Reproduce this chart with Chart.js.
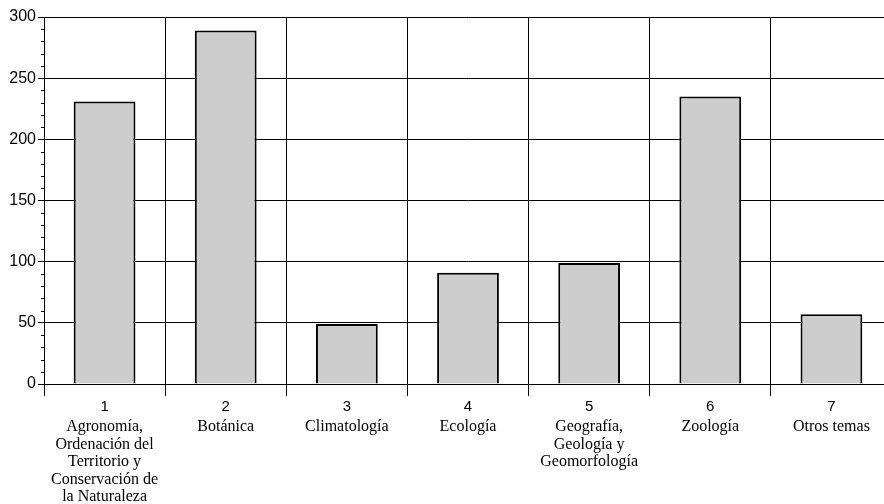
<!DOCTYPE html>
<html>
<head>
<meta charset="utf-8">
<script src="https://cdn.jsdelivr.net/npm/chart.js@4"></script>
<style>
  html, body { margin: 0; padding: 0; background: #fff; overflow: hidden; }
  #wrap { width: 884px; height: 504px; overflow: hidden; }
</style>
</head>
<body>
<div id="wrap"><canvas id="grafico" width="892" height="504"></canvas></div>
<script>
// Datos
const numeros = ['1', '2', '3', '4', '5', '6', '7'];
const temas = [
  ['Agronomía,', 'Ordenación del', 'Territorio y', 'Conservación de', 'la Naturaleza'],
  'Botánica',
  'Climatología',
  'Ecología',
  ['Geografía,', 'Geología y', 'Geomorfología'],
  'Zoología',
  'Otros temas'
];
const valores = [231, 289, 49, 91, 99, 235, 57];

// Marcas menores del eje Y (cada 10)
const marcasMenores = {
  id: 'marcasMenores',
  afterDraw(chart) {
    const y = chart.scales.y;
    const ctx = chart.ctx;
    ctx.save();
    ctx.strokeStyle = '#000';
    ctx.lineWidth = 1;
    for (let v = 0; v <= 300; v += 10) {
      if (v % 50 === 0) continue;
      const py = Math.round(y.getPixelForValue(v)) + 0.5;
      ctx.beginPath();
      ctx.moveTo(y.right - 3, py);
      ctx.lineTo(y.right, py);
      ctx.stroke();
    }
    ctx.restore();
  }
};

new Chart(document.getElementById('grafico'), {
  type: 'bar',
  data: {
    labels: numeros,
    datasets: [{
      data: valores,
      backgroundColor: '#cdcdcd',
      borderColor: '#000',
      borderWidth: 2,
      categoryPercentage: 1,
      barPercentage: 0.51
    }]
  },
  options: {
    responsive: false,
    animation: false,
    layout: { padding: { top: 17, right: 0, bottom: 0, left: 0 } },
    plugins: {
      legend: { display: false },
      tooltip: { enabled: false }
    },
    scales: {
      x: {
        position: 'bottom',
        grid: { color: '#000', lineWidth: 1, tickLength: 12, offset: true },
        border: { color: '#000', width: 1 },
        ticks: {
          color: '#000',
          font: { family: '"Liberation Sans", Arial, sans-serif', size: 15 },
          padding: 2,
          maxRotation: 0,
          autoSkip: false
        },
        afterFit(scale) { scale.height = 30; }
      },
      nombres: {
        type: 'category',
        position: 'bottom',
        labels: temas,
        offset: true,
        grid: { display: false, drawTicks: false },
        border: { display: false },
        ticks: {
          color: '#000',
          font: { family: '"Liberation Serif", "Times New Roman", serif', size: 16, lineHeight: 1.1 },
          padding: 4,
          maxRotation: 0,
          minRotation: 0,
          autoSkip: false
        },
        afterFit(scale) { scale.height = 90; }
      },
      y: {
        min: 0,
        max: 300,
        ticks: {
          stepSize: 50,
          color: '#000',
          font: { family: '"Liberation Sans", Arial, sans-serif', size: 16 },
          padding: 2
        },
        grid: { color: '#000', lineWidth: 1, tickLength: 6 },
        border: { color: '#000', width: 1 },
        afterFit(scale) { scale.width = 44; }
      }
    }
  },
  plugins: [marcasMenores]
});
</script>
</body>
</html>
